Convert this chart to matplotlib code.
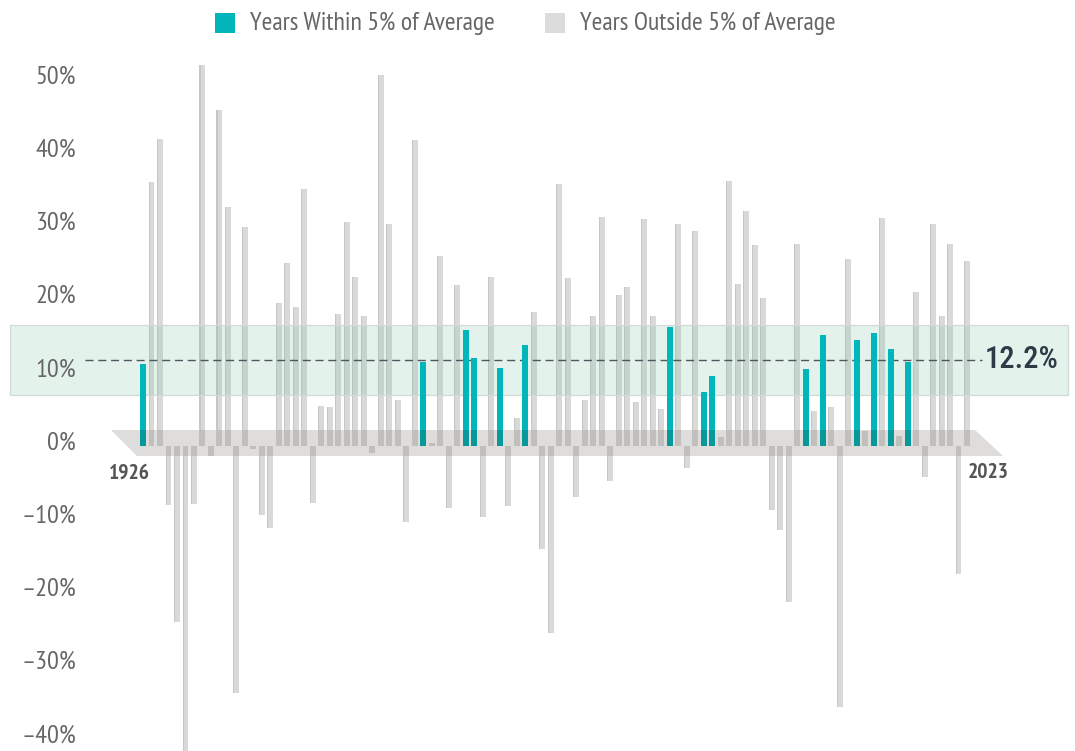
import matplotlib
matplotlib.use("Agg")
import matplotlib.pyplot as plt
from matplotlib.patches import Polygon, Rectangle
from matplotlib.transforms import blended_transform_factory

# ---------------- data ----------------
years = list(range(1926, 2024))
returns = [
    11.62, 37.49, 43.61, -8.42, -24.90, -43.34, -8.19, 53.99, -1.44, 47.67,   # 1926-1935
    33.92, -35.03, 31.12, -0.41, -9.78, -11.59, 20.34, 25.90, 19.75, 36.44,   # 1936-1945
    -8.07, 5.71, 5.50, 18.79, 31.71, 24.02, 18.37, -0.99, 52.62, 31.56,       # 1946-1955
    6.56, -10.78, 43.36, 11.96, 0.47, 26.89, -8.73, 22.80, 16.48, 12.45,      # 1956-1965
    -10.06, 23.98, 11.06, -8.50, 4.01, 14.31, 18.98, -14.66, -26.47, 37.20,   # 1966-1975
    23.84, -7.18, 6.56, 18.44, 32.42, -4.91, 21.41, 22.51, 6.27, 32.16,       # 1976-1985
    18.47, 5.23, 16.81, 31.49, -3.17, 30.55, 7.67, 9.99, 1.33, 37.58,         # 1986-1995
    22.96, 33.36, 28.58, 21.04, -9.10, -11.89, -22.10, 28.68, 10.88, 4.91,    # 1996-2005
    15.79, 5.49, -37.00, 26.46, 15.06, 2.11, 16.00, 32.39, 13.69, 1.38,       # 2006-2015
    11.96, 21.83, -4.38, 31.49, 18.40, 28.71, -18.11, 26.29,                  # 2016-2023
]
average = 12.2
band = 5.0
tick_values = [50, 40, 30, 20, 10, 0, -10, -20, -30, -40]
legend_labels = ["Years Within 5% of Average", "Years Outside 5% of Average"]

# ---------------- style ----------------
TEAL = "#00b6ba"
TEAL_DARK = "#07989b"
GRAY = "#d9d9d9"
GRAY_EDGE = "#c6c6c6"
GRAY_DARK = "#c1bfbd"
FLOOR = "#dedddc"
TXT = "#666666"
FONT = "PT Sans Narrow"

W, H = 1075, 751
fig = plt.figure(figsize=(W / 100, H / 100), dpi=100)
ax = fig.add_axes([0, 0, 1, 1])
ax.set_axis_off()

# pixel geometry -> data scale
x0_pix, dx_pix = 143.0, 8.495      # 1926 centre, spacing per year
y0_pix, dy_pix = 446.0, 7.05       # zero line, px per percent
ax.set_xlim(years[0] - x0_pix / dx_pix, years[0] + (W - x0_pix) / dx_pix)
ax.set_ylim(y0_pix / dy_pix - H / dy_pix, y0_pix / dy_pix)

def px_x(p):
    return years[0] + (p - x0_pix) / dx_pix

def px_y(p):
    return (y0_pix - p) / dy_pix

# floor (perspective slab)
floor_top, floor_bot = px_y(430), px_y(456)
floor = Polygon([(px_x(111), floor_top), (px_x(975), floor_top),
                 (px_x(1003), floor_bot), (px_x(137), floor_bot)],
                closed=True, facecolor=FLOOR, edgecolor="none", zorder=1)
ax.add_patch(floor)

bw = 0.70
inside = [abs(r - average) <= band for r in returns]
gray_x = [y for y, i in zip(years, inside) if not i]
gray_v = [r for r, i in zip(returns, inside) if not i]
teal_x = [y for y, i in zip(years, inside) if i]
teal_v = [r for r, i in zip(returns, inside) if i]

# gray bars
ax.bar(gray_x, gray_v, width=bw, color=GRAY, edgecolor="none", zorder=2)
ax.bar([x - bw / 2 + 0.06 for x in gray_x], gray_v, width=0.12,
       color=GRAY_EDGE, edgecolor="none", zorder=2.1)
# portion of gray bars inside the floor
ax.bar(gray_x, [min(v, floor_top) if v > 0 else max(v, floor_bot) for v in gray_v],
       width=bw, color=GRAY_DARK, edgecolor="none", zorder=2.2)

# average band
bx0, bx1 = px_x(10), px_x(1068)
ax.add_patch(Rectangle((bx0, average - band), bx1 - bx0, 2 * band,
                       facecolor="#7ec6a4", alpha=0.21, edgecolor="none", zorder=2.5))
ax.add_patch(Rectangle((bx0, average - band), bx1 - bx0, 2 * band,
                       facecolor="none", edgecolor="#d3d9d6", linewidth=0.9, zorder=2.6))

# dashed average line
ln, = ax.plot([px_x(85), px_x(982)], [average, average], color="#4f575d",
              linewidth=1.0, zorder=2.7)
ln.set_dashes((5.8, 3.4))

# teal bars
ax.bar(teal_x, teal_v, width=bw, color=TEAL, edgecolor="none", zorder=3)
ax.bar(teal_x, [min(v, floor_top) for v in teal_v], width=bw,
       color=TEAL_DARK, edgecolor="none", zorder=3.1)

# average label
ax.text(px_x(985), average, f"{average:.1f}%", ha="left", va="center",
        fontsize=22, fontfamily="Roboto Condensed", fontweight="medium",
        color="#2e3b47", zorder=5)

# year labels
ax.text(years[0] - 1.6, px_y(473), str(years[0]), ha="center", va="center",
        fontsize=15.5, fontfamily=FONT, fontweight="bold", color="#555555")
ax.text(years[-1] + 2.45, px_y(473), str(years[-1]), ha="center", va="center",
        fontsize=15.5, fontfamily=FONT, fontweight="bold", color="#555555")

# y tick labels (label scale: 0% at 443 px, 73.2 px per 10%)
ax2 = fig.add_axes([0, 0, 1, 1], sharex=ax)
ax2.set_axis_off()
ty0, tdy = 443.0, 7.32
ax2.set_ylim((ty0 - H) / tdy, ty0 / tdy)
tr = blended_transform_factory(fig.transFigure, ax2.transData)
for v in tick_values:
    lab = f"{v}%" if v >= 0 else f"\u2013{abs(v)}%"
    ax2.text(76 / W, v, lab, transform=tr, ha="right", va="center",
             fontsize=19, fontfamily=FONT, color=TXT)

# legend
fig.patches.append(Rectangle((215 / W, 1 - 33 / H), 20 / W, 20 / H,
                             transform=fig.transFigure, facecolor=TEAL,
                             edgecolor="none", figure=fig))
fig.patches.append(Rectangle((545 / W, 1 - 33 / H), 20 / W, 20 / H,
                             transform=fig.transFigure, facecolor="#dcdcdc",
                             edgecolor="none", figure=fig))
fig.text(250 / W, 1 - 23 / H, legend_labels[0], ha="left", va="center",
         fontsize=18.5, fontfamily=FONT, color=TXT)
fig.text(580 / W, 1 - 23 / H, legend_labels[1], ha="left", va="center",
         fontsize=18.5, fontfamily=FONT, color=TXT)

fig.savefig("out.png", dpi=100, facecolor="white")
